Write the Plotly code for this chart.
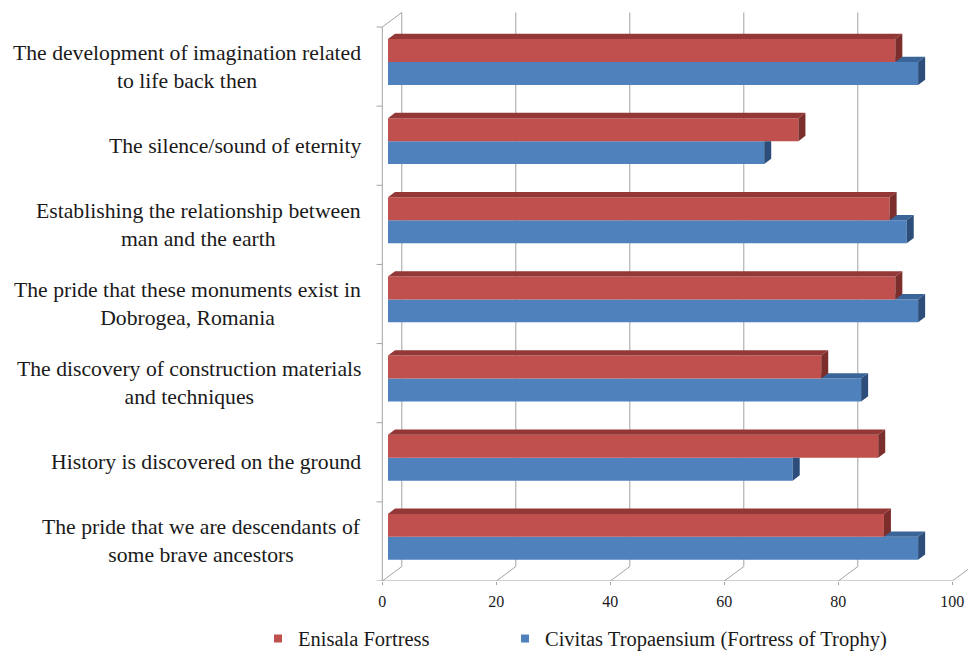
import plotly.graph_objects as go

# ---- data -------------------------------------------------------------
categories = [
    "The pride that we are descendants of<br>some brave ancestors",
    "History is discovered on the ground",
    "The discovery of construction materials<br>and techniques",
    "The pride that these monuments exist in<br>Dobrogea, Romania",
    "Establishing the relationship between<br>man and the earth",
    "The silence/sound of eternity",
    "The development of imagination related<br>to life back then",
]
enisala = [87, 86, 76, 89, 88, 72, 89]
civitas = [93, 71, 83, 93, 91, 66, 93]
x_ticks = [0, 20, 40, 60, 80, 100]
series_names = ["Enisala Fortress", "Civitas Tropaensium (Fortress of Trophy)"]

# ---- styling / geometry of the pseudo-3D frame ---------------------------
FONT = "Liberation Serif"
TEXT = "#1a1a1a"
RED, RED_TOP, RED_SIDE = "#c0504d", "#933836", "#7c2e2c"
BLUE, BLUE_TOP, BLUE_SIDE = "#4f81bd", "#3b6498", "#2d4e7a"
FRAME = "#a3a3a3"

W, H = 968, 653
M_L, M_R, M_T, M_B = 370, 0, 5, 72
X_RANGE = [-2.158, 102.75]
Y_RANGE = [-0.5, 6.778]
BAR_BASE = 1.0          # bars sit halfway into the depth of the floor
BAR_W = 0.29
RED_OFF = 0.058
BLUE_OFF = RED_OFF - BAR_W
DX, DY = 1.23, 0.067     # bar depth
WX, WY = 3.42, 0.183     # wall / floor depth

pos = list(range(len(categories)))

fig = go.Figure()


def poly_trace(polys, color):
    xs, ys = [], []
    for p in polys:
        for (px, py) in p + [p[0]]:
            xs.append(px)
            ys.append(py)
        xs.append(None)
        ys.append(None)
    return go.Scatter(x=xs, y=ys, mode="lines", fill="toself", fillcolor=color,
                      line=dict(width=0, color=color), hoverinfo="skip",
                      showlegend=False)


# front faces
fig.add_trace(go.Bar(y=pos, x=civitas, base=BAR_BASE, orientation="h", width=BAR_W,
                     offset=BLUE_OFF, marker=dict(color=BLUE, line=dict(width=0)),
                     showlegend=False, name=series_names[1]))
fig.add_trace(go.Bar(y=pos, x=enisala, base=BAR_BASE, orientation="h", width=BAR_W,
                     offset=RED_OFF, marker=dict(color=RED, line=dict(width=0)),
                     showlegend=False, name=series_names[0]))

# Civitas top/side faces (partly hidden behind the Enisala bar)
blue_top, blue_side = [], []
for i, (r, b) in enumerate(zip(enisala, civitas)):
    yb = i + BLUE_OFF
    yt = yb + BAR_W
    x0 = BAR_BASE
    if b > r:
        blue_top.append([(x0 + r, yt), (x0 + b, yt), (x0 + b + DX, yt + DY), (x0 + r, yt + DY)])
        blue_side.append([(x0 + b, yb), (x0 + b + DX, yb + DY), (x0 + b + DX, yt + DY), (x0 + b, yt)])
    else:
        blue_side.append([(x0 + b, yb), (x0 + b + DX, yb + DY), (x0 + b + DX, yt), (x0 + b, yt)])
fig.add_trace(poly_trace(blue_top, BLUE_TOP))
fig.add_trace(poly_trace(blue_side, BLUE_SIDE))

# Enisala top/side faces
red_top, red_side = [], []
for i, r in enumerate(enisala):
    yb = i + RED_OFF
    yt = yb + BAR_W
    x0 = BAR_BASE
    red_top.append([(x0, yt), (x0 + r, yt), (x0 + r + DX, yt + DY), (x0 + DX, yt + DY)])
    red_side.append([(x0 + r, yb), (x0 + r + DX, yb + DY), (x0 + r + DX, yt + DY), (x0 + r, yt)])
fig.add_trace(poly_trace(red_top, RED_TOP))
fig.add_trace(poly_trace(red_side, RED_SIDE))

# legend entries (one legend box per series so they can be spaced freely)
for name, col, lg in zip(series_names, [RED, BLUE], ["legend", "legend2"]):
    fig.add_trace(go.Scatter(x=[None], y=[None], mode="markers", name=name, legend=lg,
                             marker=dict(symbol="square", size=8, color=col)))

# ---- frame: back-wall gridlines, floor, left wall -------------------------
shapes = []
line = dict(color=FRAME, width=1)
y_lo, y_hi = -0.5, len(categories) - 0.5
for t in x_ticks:
    if t < x_ticks[-1]:
        shapes.append(dict(type="line", x0=t + WX, x1=t + WX, y0=y_lo + WY, y1=y_hi + WY,
                           xref="x", yref="y", line=line, layer="below"))
    shapes.append(dict(type="line", x0=t, x1=t + WX, y0=y_lo, y1=y_lo + WY,
                       xref="x", yref="y", line=line, layer="below"))
shapes.append(dict(type="line", x0=x_ticks[0], x1=x_ticks[-1], y0=y_lo, y1=y_lo,
                   xref="x", yref="y", line=line, layer="below"))
shapes.append(dict(type="line", x0=0, x1=0, y0=y_lo, y1=y_hi,
                   xref="x", yref="y", line=line, layer="below"))
shapes.append(dict(type="line", x0=0, x1=WX, y0=y_hi, y1=y_hi + WY,
                   xref="x", yref="y", line=line, layer="below"))
for k in range(len(categories) + 1):
    shapes.append(dict(type="line", x0=-1.0, x1=0, y0=y_lo + k, y1=y_lo + k,
                       xref="x", yref="y", line=line, layer="below"))

# category labels, centred lines, right edge just left of the wall
plot_w = W - M_L - M_R
annotations = []
for i, c in enumerate(categories):
    annotations.append(dict(x=-7 / plot_w, y=i, xref="paper", yref="y", text=c,
                            showarrow=False, xanchor="right", yanchor="middle",
                            align="center",
                            font=dict(family=FONT, size=21.7, color=TEXT)))

legend_common = dict(orientation="h", y=-0.10, xanchor="left", yanchor="middle",
                     bgcolor="rgba(0,0,0,0)",
                     font=dict(family=FONT, size=20.5, color=TEXT))

fig.update_layout(
    width=W, height=H,
    margin=dict(l=M_L, r=M_R, t=M_T, b=M_B, autoexpand=False),
    paper_bgcolor="white", plot_bgcolor="white",
    barmode="overlay",
    shapes=shapes, annotations=annotations,
    xaxis=dict(range=X_RANGE, tickvals=x_ticks, showgrid=False, zeroline=False,
               showline=False, ticks="outside", ticklen=3, tickcolor=FRAME,
               ticklabelstandoff=3,
               tickfont=dict(family=FONT, size=16, color=TEXT)),
    yaxis=dict(range=Y_RANGE, showgrid=False, zeroline=False, showticklabels=False,
               showline=False),
    legend=dict(x=(258 - M_L) / plot_w, **legend_common),
    legend2=dict(x=(505 - M_L) / plot_w, **legend_common),
    showlegend=True,
)

fig.write_html("out.html")
